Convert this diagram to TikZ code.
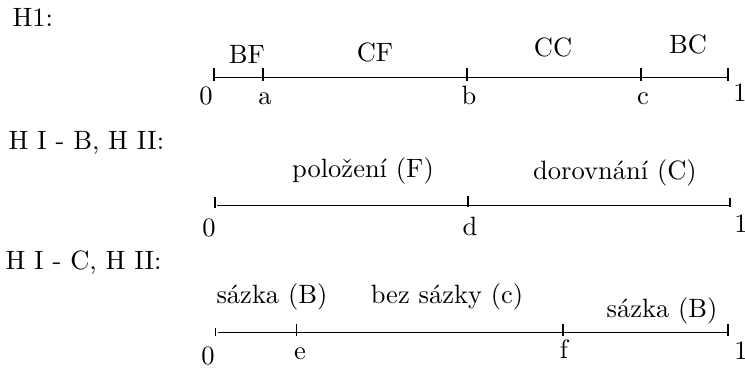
\documentclass[tikz,border=0pt]{standalone}
\begin{document}
\begin{tikzpicture}[x=0.3774pt,y=-0.3774pt,
  lbl/.style={inner sep=0pt,anchor=base},
  ttl/.style={inner sep=0pt,anchor=base west},
  axis/.style={line width=0.4pt},
  tickmark/.style={line width=0.4pt}]
\useasboundingbox (0,0) rectangle (745,370);

% ---------- Row 1 ----------
\node[ttl] (t1) at (12,27) {H1:};
\coordinate (r1s) at (214,77.5);
\coordinate (r1e) at (728,77.5);
\draw[axis] (r1s) -- (r1e);
\foreach \x in {214,263,467,641,728} \draw[tickmark] (\x,68.5) -- (\x,81);
\node[lbl] (bf) at (247,64) {BF};
\node[lbl] (cf) at (375,61.5) {CF};
\node[lbl] (cc) at (553,56.5) {CC};
\node[lbl] (bc) at (688,54) {BC};
\node[lbl] (z1) at (206,105) {0};
\node[lbl] (la) at (265,105) {a};
\node[lbl] (lb) at (469,105) {b};
\node[lbl] (lc) at (643,105) {c};
\node[lbl] (o1) at (740,102) {1};

% ---------- Row 2 ----------
\node[ttl] (t2) at (8,150) {H I - B, H II:};
\coordinate (r2s) at (217,205.5);
\coordinate (r2e) at (730,205.5);
\draw[axis] (r2s) -- (r2e);
\draw[tickmark] (215,197) -- (215,208);
\draw[tickmark] (468,196) -- (468,207);
\draw[tickmark] (730,198) -- (730,207);
\node[lbl] (pol) at (363,178) {položení (F)};
\node[lbl] (dor) at (615,180) {dorovnání (C)};
\node[lbl] (z2) at (209,237) {0};
\node[lbl] (ld) at (470,236) {d};
\node[lbl] (o2) at (741,233) {1};

% ---------- Row 3 ----------
\node[ttl] (t3) at (5,270) {H I - C, H II:};
\coordinate (r3s) at (218,332.7);
\coordinate (r3e) at (728,332.7);
\draw[axis] (r3s) -- (r3e);
\draw[tickmark] (215.7,328) -- (215.7,336);
\foreach \x in {296.7,563,728} \draw[tickmark] (\x,324) -- (\x,336);
\node[lbl] (s1) at (272,304) {sázka (B)};
\node[lbl] (bez) at (447,304) {bez sázky (c)};
\node[lbl] (s2) at (662,318) {sázka (B)};
\node[lbl] (z3) at (208,365) {0};
\node[lbl] (le) at (300,360) {e};
\node[lbl] (lf) at (564,359) {f};
\node[lbl] (o3) at (741,360) {1};
\end{tikzpicture}
\end{document}
